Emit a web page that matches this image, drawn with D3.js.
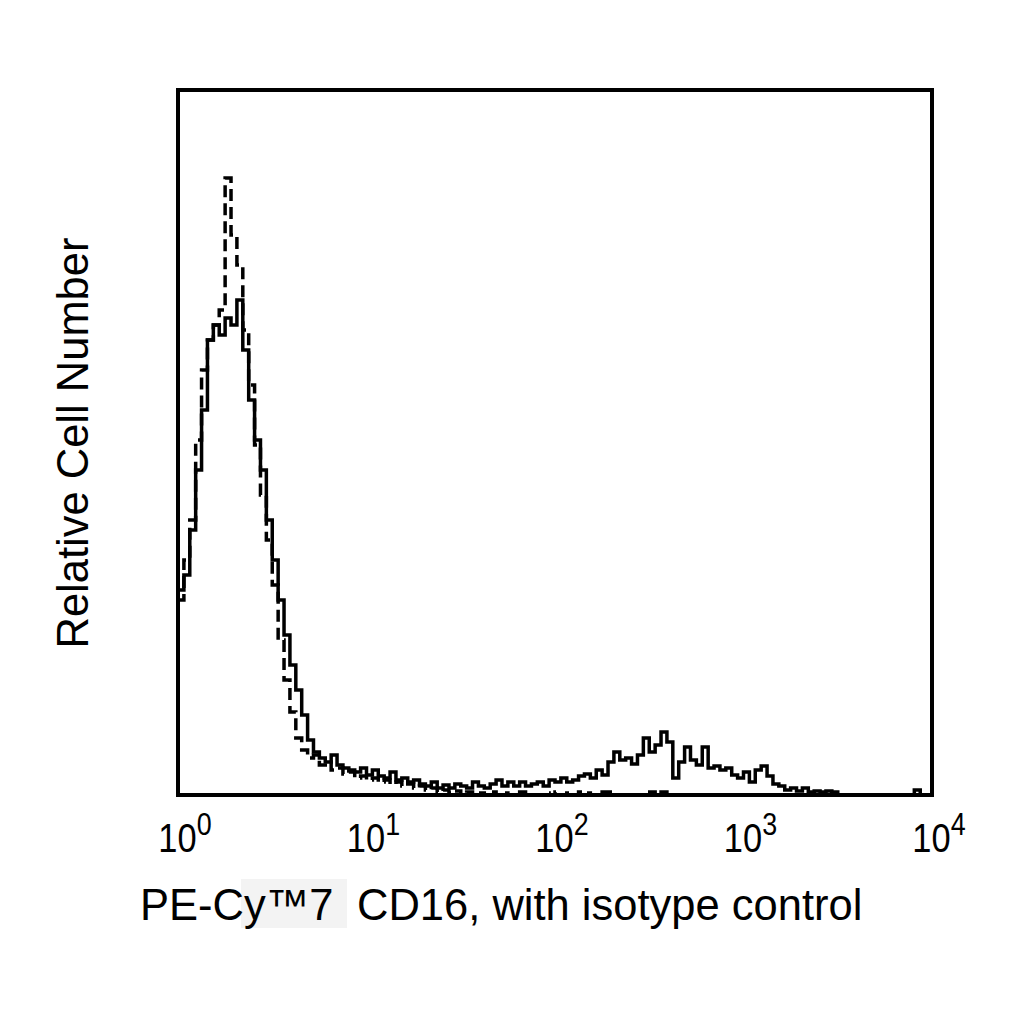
<!DOCTYPE html>
<html>
<head>
<meta charset="utf-8">
<script src="https://cdn.jsdelivr.net/npm/d3@7"></script>
<style>
  html, body { margin: 0; padding: 0; background: #fff; }
  svg { display: block; }
  text { font-family: "Liberation Sans", Arial, sans-serif; fill: #000; }
</style>
</head>
<body>
<svg id="chart" width="1024" height="1024"></svg>
<script>
// ---- data ----
const xDomain = [1, 10000];
const tickExponents = [0, 1, 2, 3, 4];
const channelsPerDecade = 32;
const xLabelPart1 = "PE-Cy\u21227";
const xLabelPart2 = "CD16, with isotype control";
const yLabel = "Relative Cell Number";

// relative counts per log channel (solid line: CD16 stained, with positive hump)
const stainedCounts = [
  205, 220, 265, 325, 385, 455, 470, 460, 477, 470,
  495, 445, 395, 355, 325, 275, 235, 195, 160, 130,
  105, 80, 55, 43, 37, 33, 40, 30, 27, 25,
  23, 27, 20, 25, 19, 17, 23, 15, 17, 13,
  15, 11, 9, 13, 7, 10, 7, 11, 9, 7,
  13, 9, 7, 11, 15, 9, 13, 9, 13, 9,
  11, 13, 9, 15, 13, 17, 13, 15, 19, 21,
  17, 25, 20, 33, 43, 35, 37, 31, 40, 57,
  43, 50, 63, 53, 17, 33, 48, 35, 30, 48,
  27, 29, 25, 27, 20, 17, 23, 13, 25, 29,
  19, 11, 9, 5, 7, 4, 7, 3, 4, 3,
  4, 3, 0, 0, 0, 0, 0, 0, 0, 0,
  0, 0, 0, 0, 0, 5, 0, 0
];

// relative counts per log channel (dashed line: isotype control)
const isotypeCounts = [
  195, 235, 275, 355, 425, 455, 470, 485, 617, 560,
  530, 465, 410, 350, 300, 255, 210, 155, 115, 83,
  57, 45, 37, 40, 30, 33, 25, 27, 21, 23,
  17, 19, 15, 17, 13, 15, 11, 13, 9, 11,
  7, 9, 5, 7, 3, 5, 2, 4, 0, 3,
  0, 2, 0, 3, 0, 2, 0, 0, 3, 0,
  0, 0, 2, 0, 3, 0, 2, 0, 3, 2,
  0, 0, 3, 3, 0, 0, 0, 0, 0, 3,
  3, 0, 3, 0, 0, 0, 0, 0, 0, 0,
  0, 0, 0, 0, 0, 0, 0, 0, 0, 0,
  0, 0, 0, 0, 0, 0, 0, 0, 0, 0,
  0, 0, 0, 0, 0, 0, 0, 0, 0, 0,
  0, 0, 0, 0, 0, 0, 0, 0
];
const yMax = 705;

// ---- layout ----
const svg = d3.select("#chart");
const plotLeft = 178, plotRight = 932, plotTop = 90, plotBottom = 795;

const x = d3.scaleLog().domain(xDomain).range([plotLeft, plotRight]);
const y = d3.scaleLinear().domain([0, yMax]).range([plotBottom, plotTop]);

svg.append("defs").append("clipPath").attr("id", "plotClip")
  .append("rect").attr("x", plotLeft).attr("y", plotTop)
  .attr("width", plotRight - plotLeft).attr("height", plotBottom - plotTop);

function stepPoints(counts) {
  const pts = counts.map((c, i) => [Math.pow(10, i / channelsPerDecade), c]);
  pts.push([Math.pow(10, counts.length / channelsPerDecade), counts[counts.length - 1]]);
  return pts;
}
const line = d3.line()
  .x(d => x(d[0]))
  .y(d => y(d[1]))
  .curve(d3.curveStepAfter);

const plot = svg.append("g").attr("clip-path", "url(#plotClip)");

plot.append("path")
  .datum(stepPoints(isotypeCounts))
  .attr("d", line)
  .attr("fill", "none")
  .attr("stroke", "#000")
  .attr("stroke-width", 3.5)
  .attr("stroke-dasharray", "12,6");

plot.append("path")
  .datum(stepPoints(stainedCounts))
  .attr("d", line)
  .attr("fill", "none")
  .attr("stroke", "#000")
  .attr("stroke-width", 3.5);

// frame
svg.append("rect")
  .attr("x", plotLeft).attr("y", plotTop)
  .attr("width", plotRight - plotLeft).attr("height", plotBottom - plotTop)
  .attr("fill", "none").attr("stroke", "#000").attr("stroke-width", 4);

// x tick labels (10^n)
const tickG = svg.append("g");
tickExponents.forEach(e => {
  const t = tickG.append("text")
    .attr("transform", `translate(${x(Math.pow(10, e)) + 7},852) scale(0.84,1)`)
    .attr("text-anchor", "middle")
    .attr("font-size", 41);
  t.append("tspan").text("10");
  t.append("tspan").attr("font-size", 32).attr("dy", -17).text(String(e));
});

// x axis label
svg.append("rect")
  .attr("x", 241).attr("y", 879).attr("width", 106).attr("height", 49)
  .attr("fill", "#f3f3f3");
svg.append("text")
  .attr("x", 140).attr("y", 920)
  .attr("font-size", 43.5)
  .text(xLabelPart1);
svg.append("text")
  .attr("x", 357).attr("y", 920)
  .attr("font-size", 43.5)
  .text(xLabelPart2);

// y axis label
svg.append("text")
  .attr("transform", "translate(88,443) rotate(-90)")
  .attr("text-anchor", "middle")
  .attr("font-size", 43.5)
  .text(yLabel);
</script>
</body>
</html>
